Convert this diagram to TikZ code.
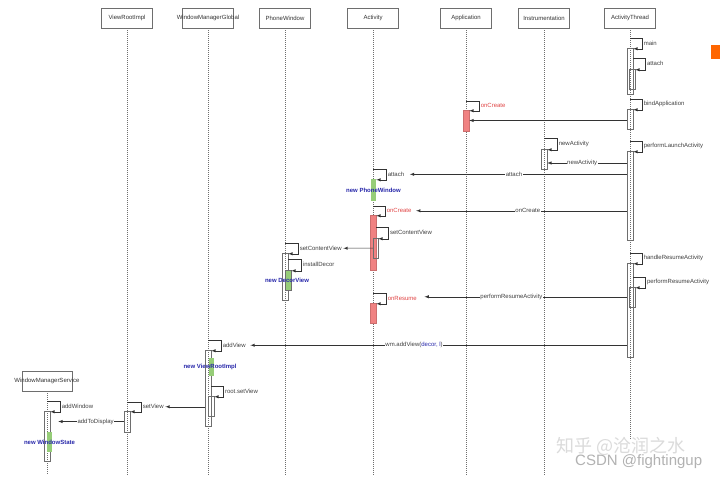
\documentclass[tikz,border=0pt]{standalone}
\usepackage{fontspec}
\setmainfont{Liberation Sans}
\newfontfamily\cjk{Noto Sans CJK SC}
\usepackage{tikz}
\usetikzlibrary{calc}
\usetikzlibrary{arrows}

\definecolor{actred}{RGB}{240,130,130}
\definecolor{txtred}{RGB}{225,70,70}
\definecolor{newgreen}{RGB}{150,205,120}
\definecolor{newblue}{RGB}{40,40,170}
\definecolor{linegray}{RGB}{110,110,110}

\begin{document}
\begin{tikzpicture}[x=1pt,y=-1pt,>=latex,
	obj/.style={draw=linegray, fill=white, minimum width=51pt, minimum height=20pt, inner sep=0pt, font=\fontsize{6}{7}\selectfont, text=black!80},
	life/.style={draw=linegray, dash pattern=on 1.2pt off 0.8pt, line width=0.4pt},
	act/.style={draw=linegray, minimum width=6pt, inner sep=0pt, line width=0.5pt},
	redact/.style={act, draw=actred!85!black, fill=actred},
	newbar/.style={fill=newgreen, minimum width=5pt, inner sep=0pt},
	msg/.style={->, line width=0.5pt, black!80},
	lbl/.style={font=\fontsize{6}{7}\selectfont, text=black!75, inner sep=1.5pt, anchor=west},
	redlbl/.style={lbl, text=txtred},
	onlbl/.style={font=\fontsize{6}{7}\selectfont, text=black!75, fill=white, inner sep=0.5pt},
	newlbl/.style={font=\bfseries\fontsize{6}{7}\selectfont, text=newblue, inner sep=0pt}
]
	\fill[white] (0,0) rectangle (720,479);
	\useasboundingbox (0,0) rectangle (720,479);

	% objects
	\node[obj] (vri) at (127,18) {ViewRootImpl};
	\node[obj] (wmg) at (208,18) {\makebox[0pt]{WindowManagerGlobal}};
	\node[obj] (pw) at (285,18) {PhoneWindow};
	\node[obj] (activity) at (373,18) {Activity};
	\node[obj] (app) at (466,18) {Application};
	\node[obj] (ins) at (544,18) {Instrumentation};
	\node[obj] (thread) at (630,18) {ActivityThread};
	\node[obj, minimum width=50pt] (wms) at (47,381) {\makebox[0pt]{WindowManagerService}};

	% lifelines
	\draw[life] (vri.south) -- (vri.south |- 0,475);
	\draw[life] (wmg.south) -- (wmg.south |- 0,475);
	\draw[life] (pw.south) -- (pw.south |- 0,475);
	\draw[life] (activity.south) -- (activity.south |- 0,475);
	\draw[life] (app.south) -- (app.south |- 0,475);
	\draw[life] (ins.south) -- (ins.south |- 0,475);
	\draw[life] (thread.south) -- (thread.south |- 0,440);
	\draw[life] (wms.south) -- (wms.south |- 0,475);

	% activations
	\node[act, minimum height=46pt] (atMain) at (630,71) {};
	\node[act, minimum height=20pt] (atAttach) at (632,79) {};
	\node[act, minimum height=20pt] (atBind) at (630,119) {};
	\node[act, minimum height=89pt] (atLaunch) at (630,195.5) {};
	\node[act, minimum height=94pt] (atResume) at (630,310) {};
	\node[act, minimum height=20pt] (atPerform) at (632,297) {};
	\node[redact, minimum height=21pt] (appCreate) at (466,120.5) {};
	\node[act, minimum height=20pt] (insNew) at (544,159) {};
	\node[newbar, minimum height=22pt] (phoneBar) at (373.5,190) {};
	\node[redact, minimum height=55pt] (actCreate) at (373,242.5) {};
	\node[act, minimum width=5pt, minimum height=20pt] (actSet) at (375.5,248) {};
	\node[redact, minimum height=20pt] (actResume) at (373,313) {};
	\node[act, minimum height=47pt] (pwSet) at (285,276.5) {};
	\node[newbar, draw=linegray, line width=0.4pt, minimum width=6pt, minimum height=20pt] (decorBar) at (288,280) {};
	\node[act, minimum height=76pt] (wmgAdd) at (208,388) {};
	\node[newbar, minimum height=18pt] (vriBar) at (211,367) {};
	\node[act, minimum height=20pt] (wmgSet) at (211,406) {};
	\node[act, minimum height=21pt] (vriSet) at (127,421.5) {};
	\node[act, minimum height=50pt] (wmsAdd) at (47,436) {};
	\node[newbar, minimum height=20pt] (stateBar) at (49.5,442) {};

	\node[newlbl] (newPW) at (phoneBar) {new PhoneWindow};
	\node[newlbl] (newDecor) at ([xshift=-1pt]decorBar.center) {new DecorView};
	\node[newlbl] (newVRI) at ([xshift=-1pt]vriBar.center) {new ViewRootImpl};
	\node[newlbl] (newState) at (stateBar) {new WindowState};

	% self calls
	\draw[msg] ([yshift=10pt]atMain.north -| thread.south) -- ++(12,0) |- node[lbl, pos=.25] (lMain) {main} ([yshift=-1pt]atMain.north east);
	\draw[msg] ([yshift=11pt]atAttach.north -| atMain.east) -- ++(12,0) |- node[lbl, pos=.25] (lAtAttach) {attach} ([yshift=-1pt]atAttach.north east);
	\draw[msg] ([yshift=10pt]atBind.north -| thread.south) -- ++(12,0) |- node[lbl, pos=.25] (lBind) {bindApplication} ([yshift=-1pt]atBind.north east);
	\draw[msg] ([yshift=9pt]appCreate.north -| app.south) -- ++(13,0) |- node[redlbl, pos=.25] (lAppCreate) {onCreate} ([yshift=-1pt]appCreate.north east);
	\draw[msg] ([yshift=11pt]insNew.north -| ins.south) -- ++(13,0) |- node[lbl, pos=.25] (lNew) {newActivity} ([yshift=-1pt]insNew.north east);
	\draw[msg] ([yshift=10pt]atLaunch.north -| thread.south) -- ++(12,0) |- node[lbl, pos=.25] (lLaunch) {performLaunchActivity} ([yshift=-1pt]atLaunch.north east);
	\draw[msg] ([yshift=10pt]phoneBar.north -| activity.south) -- ++(13,0) |- node[lbl, pos=.25] (lAttach) {attach} ([yshift=-1pt]phoneBar.north east);
	\draw[msg] ([yshift=9pt]actCreate.north -| activity.south) -- ++(12,0) |- node[redlbl, pos=.25] (lCreate) {onCreate} ([yshift=-1pt]actCreate.north east);
	\draw[msg] ([yshift=11pt]actSet.north -| actCreate.east) -- ++(12,0) |- node[lbl, pos=.25] (lActSet) {setContentView} ([yshift=-1pt]actSet.north east);
	\draw[msg] ([yshift=10pt]pwSet.north -| pw.south) -- ++(13,0) |- node[lbl, pos=.25] (lSetPW) {setContentView} ([yshift=-1pt]pwSet.north east);
	\draw[msg] ([yshift=11pt]decorBar.north -| pwSet.east) -- ++(13,0) |- node[lbl, pos=.25] (lDecor) {installDecor} ([yshift=-1pt]decorBar.north east);
	\draw[msg] ([yshift=10pt]actResume.north -| activity.south) -- ++(13,0) |- node[redlbl, pos=.25] (lResume) {onResume} ([yshift=-1pt]actResume.north east);
	\draw[msg] ([yshift=10pt]atResume.north -| thread.south) -- ++(12,0) |- node[lbl, pos=.25] (lHandle) {handleResumeActivity} ([yshift=-1pt]atResume.north east);
	\draw[msg] ([yshift=10pt]atPerform.north -| atResume.east) -- ++(12,0) |- node[lbl, pos=.25] (lPerform) {performResumeActivity} ([yshift=-1pt]atPerform.north east);
	\draw[msg] ([yshift=10pt]wmgAdd.north -| wmg.south) -- ++(13,0) |- node[lbl, pos=.25] (lAddView) {addView} ([yshift=-1pt]wmgAdd.north east);
	\draw[msg] ([yshift=10pt]wmgSet.north -| wmgAdd.east) -- ++(12,0) |- node[lbl, pos=.25] (lRootSet) {root.setView} ([yshift=-1pt]wmgSet.north east);
	\draw[msg] ([yshift=9pt]vriSet.north -| vri.south) -- ++(14,0) |- node[lbl, pos=.25] (lSetView) {setView} ([yshift=-1pt]vriSet.north east);
	\draw[msg] ([yshift=10pt]wmsAdd.north -| wms.south) -- ++(13,0) |- node[lbl, pos=.25] (lAddWin) {addWindow} ([yshift=-1pt]wmsAdd.north east);

	% messages
	\draw[msg] (appCreate.east -| atBind.west) -- (appCreate.east);
	\draw[msg] ([yshift=-4pt]insNew.east -| atLaunch.west) -- node[onlbl, pos=.56] {newActivity} ([yshift=-4pt]insNew.east);
	\draw[msg] (lAttach.east -| atLaunch.west) -- node[onlbl, pos=.52] {attach} ([xshift=4pt]lAttach.east);
	\draw[msg] (lCreate.east -| atLaunch.west) -- node[onlbl, pos=.47] {onCreate} ([xshift=3pt]lCreate.east);
	\draw[msg] (actSet.west) -- (lSetPW.east);
	\draw[msg] ([yshift=1.5pt]lResume.east -| atResume.west) -- node[onlbl, pos=.57] {performResumeActivity} ([xshift=6pt, yshift=1.5pt]lResume.east);
	\draw[msg] (lAddView.east -| atResume.west) -- node[onlbl, pos=.565] {wm.addView(\textcolor{newblue}{decor, l})} ([xshift=3pt]lAddView.east);
	\draw[msg] (lSetView.east -| wmgAdd.west) -- (lSetView.east);
	\draw[msg] (vriSet.west) -- node[onlbl, pos=.43] {addToDisplay} ([xshift=8pt]vriSet.west -| wmsAdd.east);

	% marks on the page
	\fill[orange!80!red] (711,45) rectangle (720,59);
	\node[text=gray!28, font=\cjk\fontsize{18}{18}\selectfont, anchor=west, inner sep=0pt] (zhihu) at (556,446) {知乎 @沧润之水};
	\node[text=gray!60, font=\fontsize{15}{15}\selectfont, anchor=west, inner sep=0pt] (csdn) at (575,462) {CSDN @fightingup};
\end{tikzpicture}
\end{document}
